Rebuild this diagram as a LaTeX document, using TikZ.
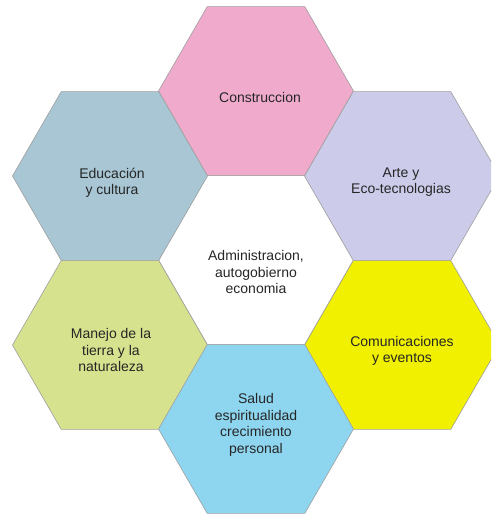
\documentclass[tikz,border=0pt]{standalone}
\usepackage{fontspec}
\setmainfont{Liberation Sans}
\usetikzlibrary{shapes.geometric}
\definecolor{pinkhex}{RGB}{240,170,204}
\definecolor{bluehex}{RGB}{168,198,212}
\definecolor{lilachex}{RGB}{204,204,234}
\definecolor{greenhex}{RGB}{214,226,142}
\definecolor{yellowhex}{RGB}{240,240,0}
\definecolor{cyanhex}{RGB}{142,214,240}
\begin{document}
\begin{tikzpicture}[x=1pt,y=-1pt,hex node/.style={regular polygon,regular polygon sides=6,minimum size=195pt,inner sep=0pt,draw=gray!75,line width=0.6pt},txt node/.style={align=center,font=\fontsize{14}{16.5}\selectfont,text=black!85}]
                    \useasboundingbox (0,0) rectangle (491,514);
                    \clip (0,0) rectangle (491,514);
                    \node[hex node,fill=white] at (256,260) (admin) {};
                    \node[hex node,fill=pinkhex] at (256,91) (cons) {};
                    \node[hex node,fill=bluehex] at (110,176) (edu) {};
                    \node[hex node,fill=lilachex] at (402,176) (arte) {};
                    \node[hex node,fill=greenhex] at (110,345) (manejo) {};
                    \node[hex node,fill=yellowhex] at (402,345) (comu) {};
                    \node[hex node,fill=cyanhex] at (256,429) (salud) {};

                    \node[txt node] at (260,97) (tcons) {Construccion};
                    \node[txt node] at (112,183) (tedu) {Educación\\y cultura};
                    \node[txt node] at (401,182) (tarte) {Arte y\\Eco-tecnologias};
                    \node[txt node] at (256,272) (tadmin) {Administracion,\\autogobierno\\economia};
                    \node[txt node] at (111,350) (tmanejo) {Manejo de la\\tierra y la\\naturaleza};
                    \node[txt node] at (402,351) (tcomu) {Comunicaciones\\y eventos};
                    \node[txt node] at (256,425) (tsalud) {Salud\\espiritualidad\\crecimiento\\personal};
                \end{tikzpicture}
\end{document}
